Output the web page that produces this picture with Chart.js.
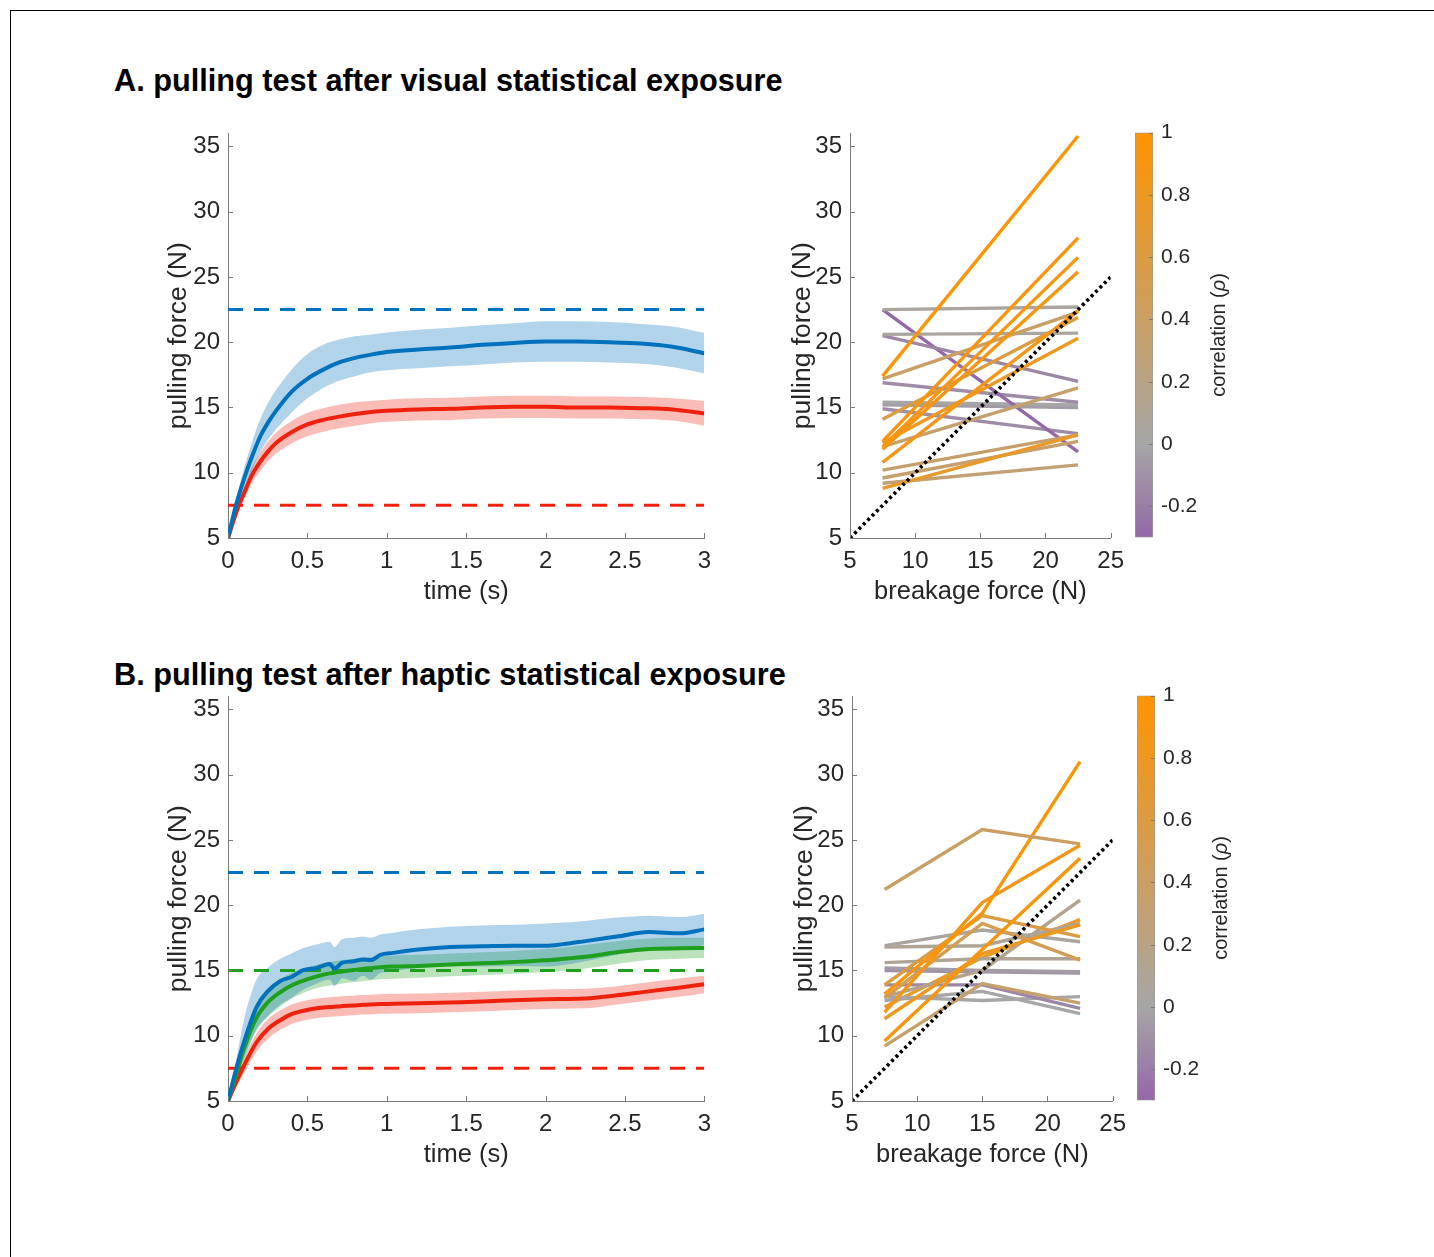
<!DOCTYPE html>
<html>
<head>
<meta charset="utf-8">
<script src="https://cdn.jsdelivr.net/npm/chart.js@4.4.1/dist/chart.umd.min.js"></script>
<style>
html, body { margin: 0; padding: 0; background: #fff; }
body { width: 1434px; height: 1257px; position: relative; overflow: hidden; font-family: 'Liberation Sans', Arial, sans-serif; }
#frame { position: absolute; left: 10px; top: 10px; width: 1430px; height: 1260px; border-top: 1.5px solid #000; border-left: 1.5px solid #000; }
.head { position: absolute; left: 114px; font-weight: bold; font-size: 30.7px; line-height: 30px; color: #000; white-space: nowrap; }
canvas { position: absolute; }
</style>
</head>
<body>
<div id="frame"></div>
<div class="head" style="top:66px">A. pulling test after visual statistical exposure</div>
<div class="head" style="top:660px">B. pulling test after haptic statistical exposure</div>
<canvas id="timeA" width="580" height="499" style="left:140px;top:111px"></canvas>
<canvas id="pairA" width="363" height="499" style="left:770px;top:111px"></canvas>
<canvas id="barA" width="130" height="446" style="left:1120px;top:112px"></canvas>
<canvas id="timeB" width="580" height="499" style="left:140px;top:674px"></canvas>
<canvas id="pairB" width="363" height="499" style="left:772px;top:674px"></canvas>
<canvas id="barB" width="130" height="446" style="left:1122px;top:675px"></canvas>
<script>
// ---- tick labels
var forceTicks = [5, 10, 15, 20, 25, 30, 35];
var timeTicks = [0, 0.5, 1, 1.5, 2, 2.5, 3];
var breakTicks = [5, 10, 15, 20, 25];
var rhoTicks = [-0.2, 0, 0.2, 0.4, 0.6, 0.8, 1];

// ---- A: pulling force over time (visual exposure)
var tA = [0, 0.05, 0.1, 0.15, 0.2, 0.25, 0.3, 0.4, 0.5, 0.6, 0.7, 0.8, 0.9, 1.0, 1.2, 1.4, 1.6, 1.8, 2.0, 2.2, 2.4, 2.6, 2.8, 3.0];
var blueA   = [5, 7.5, 9.5, 11.2, 12.7, 13.8, 14.7, 16.2, 17.2, 17.9, 18.45, 18.8, 19.05, 19.25, 19.45, 19.6, 19.8, 19.95, 20.05, 20.05, 20.0, 19.9, 19.65, 19.15];
var blueAhi = [5, 7.9, 10.3, 12.3, 14.0, 15.3, 16.3, 17.9, 19.1, 19.8, 20.2, 20.45, 20.6, 20.75, 20.95, 21.1, 21.3, 21.45, 21.6, 21.6, 21.55, 21.4, 21.2, 20.7];
var blueAlo = [5, 7.1, 8.8, 10.2, 11.5, 12.5, 13.3, 14.6, 15.7, 16.5, 17.05, 17.4, 17.7, 17.85, 18.0, 18.15, 18.3, 18.45, 18.5, 18.5, 18.45, 18.35, 18.1, 17.6];
var redA    = [5, 6.9, 8.4, 9.8, 10.8, 11.6, 12.25, 13.1, 13.7, 14.05, 14.3, 14.5, 14.65, 14.75, 14.85, 14.9, 15.0, 15.05, 15.05, 15.0, 15.0, 14.95, 14.85, 14.55];
var redAhi  = [5, 7.1, 8.8, 10.4, 11.5, 12.35, 13.05, 13.95, 14.6, 14.95, 15.2, 15.4, 15.5, 15.6, 15.7, 15.75, 15.85, 15.9, 15.9, 15.85, 15.85, 15.8, 15.7, 15.5];
var redAlo  = [5, 6.7, 8.0, 9.2, 10.1, 10.85, 11.45, 12.25, 12.8, 13.15, 13.4, 13.6, 13.8, 13.9, 14.0, 14.05, 14.15, 14.2, 14.2, 14.15, 14.15, 14.1, 14.0, 13.6];
var refA = [22.5, 7.5];   // blue, red breakage force

// ---- B: pulling force over time (haptic exposure)
var tB = [0, 0.05, 0.1, 0.18, 0.25, 0.33, 0.4, 0.47, 0.56, 0.64, 0.67, 0.72, 0.79, 0.85, 0.9, 0.96, 1.04, 1.2, 1.4, 1.6, 1.8, 2.0, 2.1, 2.25, 2.45, 2.65, 2.85, 3.0];
var blueB    = [5, 7.4, 9.5, 12.2, 13.4, 14.2, 14.5, 15.0, 15.2, 15.5, 15.15, 15.6, 15.7, 15.85, 15.8, 16.2, 16.35, 16.6, 16.8, 16.85, 16.9, 16.9, 17.0, 17.25, 17.6, 17.95, 17.85, 18.15];
var blueBhi  = [5, 8.0, 11.2, 14.3, 15.2, 15.9, 16.3, 16.7, 17.0, 17.2, 16.8, 17.4, 17.5, 17.6, 17.5, 17.75, 17.9, 18.15, 18.35, 18.45, 18.5, 18.6, 18.65, 18.8, 19.05, 19.2, 19.1, 19.35];
var blueBlo  = [5, 6.8, 8.3, 10.5, 11.5, 12.4, 12.9, 13.5, 14.0, 14.3, 13.8, 14.4, 14.2, 14.6, 14.3, 14.8, 14.95, 15.2, 15.35, 15.3, 15.35, 15.3, 15.4, 15.7, 16.2, 16.7, 16.65, 16.95];
var greenB   = [5, 7.0, 9.0, 11.4, 12.55, 13.35, 13.85, 14.2, 14.55, 14.78, 14.83, 14.93, 15.03, 15.12, 15.18, 15.25, 15.3, 15.35, 15.45, 15.55, 15.65, 15.78, 15.88, 16.05, 16.4, 16.65, 16.7, 16.73];
var greenBhi = [5, 7.5, 9.8, 12.5, 13.6, 14.35, 14.8, 15.1, 15.45, 15.65, 15.7, 15.8, 15.9, 15.97, 16.02, 16.1, 16.15, 16.2, 16.3, 16.4, 16.5, 16.65, 16.75, 16.95, 17.25, 17.45, 17.5, 17.5];
var greenBlo = [5, 6.5, 8.2, 10.4, 11.45, 12.25, 12.85, 13.25, 13.65, 13.85, 13.9, 14.0, 14.1, 14.18, 14.25, 14.32, 14.37, 14.45, 14.55, 14.65, 14.75, 14.88, 14.97, 15.15, 15.5, 15.8, 15.9, 15.95];
var redB     = [5, 6.4, 7.7, 9.5, 10.5, 11.2, 11.65, 11.9, 12.1, 12.2, 12.23, 12.27, 12.32, 12.37, 12.4, 12.43, 12.46, 12.48, 12.55, 12.62, 12.72, 12.8, 12.82, 12.85, 13.1, 13.4, 13.7, 13.95];
var redBhi   = [5, 6.8, 8.3, 10.2, 11.25, 11.95, 12.4, 12.65, 12.85, 12.95, 12.98, 13.02, 13.07, 13.12, 13.15, 13.18, 13.21, 13.23, 13.3, 13.37, 13.47, 13.55, 13.57, 13.6, 13.8, 14.1, 14.4, 14.6];
var redBlo   = [5, 6.0, 7.1, 8.8, 9.75, 10.45, 10.9, 11.15, 11.35, 11.45, 11.48, 11.52, 11.57, 11.62, 11.65, 11.68, 11.71, 11.73, 11.8, 11.87, 11.97, 12.05, 12.07, 12.1, 12.4, 12.7, 13.0, 13.25];
var refB = [22.5, 15, 7.5];   // blue, green, red breakage force

// ---- A right: per-subject pulling force at breakage 7.5 / 22.5 N, and correlation
var breakA = [7.5, 22.5];
var subjA_lo = [17.4, 12.4, 12.0, 11.8, 10.8, 12.3, 8.8, 17.2, 14.1, 12.0, 10.2, 9.6, 9.2, 22.5, 20.6, 20.5, 22.5, 16.9, 15.4, 15.2, 14.9];
var subjA_hi = [35.8, 28.0, 26.5, 25.4, 22.4, 20.3, 12.9, 22.3, 21.9, 16.5, 12.9, 12.4, 10.6, 22.7, 20.7, 17.0, 11.6, 15.4, 15.2, 15.0, 13.0];
var rhoA     = [0.97, 0.92, 0.9, 0.88, 0.85, 0.8, 0.75, 0.4, 0.6, 0.35, 0.35, 0.35, 0.3, 0.05, 0.05, -0.15, -0.3, -0.12, 0.0, -0.05, -0.12];

// ---- B right: per-subject pulling force at breakage 7.5 / 15 / 22.5 N, and correlation
var breakB = [7.5, 15, 22.5];
var subjB_lo  = [21.2, 13.2, 11.8, 9.6, 11.3, 13.9, 12.9, 9.2, 13.0, 16.9, 16.8, 15.6, 15.2, 15.0, 13.9, 13.0, 12.7, 12.2];
var subjB_mid = [25.8, 19.4, 20.2, 16.6, 16.3, 19.2, 18.6, 14.0, 15.0, 18.1, 16.9, 15.9, 15.0, 14.9, 13.9, 12.7, 13.4, 16.0];
var subjB_hi  = [24.7, 31.0, 24.6, 23.6, 18.5, 17.6, 15.8, 12.5, 20.4, 17.2, 18.6, 15.9, 14.9, 14.8, 12.1, 13.0, 11.7, 18.9];
var rhoB      = [0.4, 0.95, 0.85, 0.92, 0.8, 0.6, 0.5, 0.35, 0.15, 0.05, 0.1, 0.1, -0.05, -0.1, -0.15, 0.0, 0.0, 0.75];

var rhoMin = -0.3, rhoMax = 1;

// ---- styles
var BLUE = '0,114,189', RED = '238,34,12', GREEN = '30,160,30';
var axisGray = '#7a7a7a';
var textCol = '#262626';
var FONT = "'Liberation Sans', Arial, sans-serif";
var cmPurple = [148, 104, 168], cmGray = [166, 166, 166], cmOrange = [255, 148, 0];

Chart.defaults.font.family = FONT;
Chart.defaults.color = textCol;
Chart.defaults.animation = false;
Chart.defaults.plugins.legend.display = false;
Chart.defaults.plugins.tooltip.enabled = false;

function pts(xs, ys) {
  return xs.map(function (x, i) { return {x: x, y: ys[i]}; });
}

function rhoColor(r) {
  var a, b, f;
  if (r <= 0) { a = cmPurple; b = cmGray; f = (r - rhoMin) / (0 - rhoMin); }
  else { a = cmGray; b = cmOrange; f = r / rhoMax; }
  f = Math.max(0, Math.min(1, f));
  var c = a.map(function (v, i) { return Math.round(v + (b[i] - v) * f); });
  return 'rgb(' + c.join(',') + ')';
}

// MATLAB style ticks pointing into the axes
var innerTicks = {
  id: 'innerTicks',
  afterDraw: function (chart, args, opts) {
    var ctx = chart.ctx, a = chart.chartArea, len = opts.len || 5;
    ctx.save();
    ctx.strokeStyle = axisGray;
    ctx.lineWidth = 1;
    ctx.beginPath();
    if (opts.x) {
      chart.scales.x.ticks.forEach(function (t) {
        var px = Math.round(chart.scales.x.getPixelForValue(t.value)) + 0.5;
        ctx.moveTo(px, a.bottom); ctx.lineTo(px, a.bottom - len);
      });
    }
    if (opts.y) {
      var ys = chart.scales.y;
      ys.ticks.forEach(function (t) {
        var py = Math.round(ys.getPixelForValue(t.value)) + 0.5;
        if (opts.right) { ctx.moveTo(a.right, py); ctx.lineTo(a.right - len, py); }
        else { ctx.moveTo(a.left, py); ctx.lineTo(a.left + len, py); }
      });
    }
    ctx.stroke();
    ctx.restore();
  }
};

// colorbar label, reading bottom to top, with italic rho
var cbTitle = {
  id: 'cbTitle',
  afterDraw: function (chart) {
    var ctx = chart.ctx, a = chart.chartArea;
    var parts = [['correlation (', 'normal'], ['\u03C1', 'italic'], [')', 'normal']];
    ctx.save();
    ctx.translate(a.right + 66, (a.top + a.bottom) / 2);
    ctx.rotate(-Math.PI / 2);
    ctx.fillStyle = textCol;
    ctx.textAlign = 'left';
    ctx.textBaseline = 'middle';
    var widths = parts.map(function (p) { ctx.font = p[1] + ' 20px ' + FONT; return ctx.measureText(p[0]).width; });
    var x = -widths.reduce(function (s, w) { return s + w; }, 0) / 2;
    parts.forEach(function (p, i) {
      ctx.font = p[1] + ' 20px ' + FONT;
      ctx.fillText(p[0], x, 0);
      x += widths[i];
    });
    ctx.restore();
  }
};

function axes(xMin, xMax, xTicks, xTitle, yWidth, yTitlePad) {
  return {
    x: {
      type: 'linear', min: xMin, max: xMax,
      afterBuildTicks: function (s) { s.ticks = xTicks.map(function (v) { return {value: v}; }); },
      afterFit: function (s) { s.height = 72; },
      grid: {display: false, drawTicks: false},
      border: {display: true, color: axisGray, width: 1},
      ticks: {padding: 9, font: {size: 24}, color: textCol, maxRotation: 0, autoSkip: false,
              callback: function (v) { return String(v); }},
      title: {display: true, text: xTitle, font: {size: 25.5}, color: textCol, padding: {top: 0, bottom: 3}}
    },
    y: {
      min: 5, max: 36,
      afterBuildTicks: function (s) { s.ticks = forceTicks.map(function (v) { return {value: v}; }); },
      afterFit: function (s) { s.width = yWidth; },
      grid: {display: false, drawTicks: false},
      border: {display: true, color: axisGray, width: 1},
      ticks: {padding: 8, font: {size: 24}, color: textCol, callback: function (v) { return String(v); }},
      title: {display: true, text: 'pulling force (N)', font: {size: 26.5}, color: textCol, padding: {top: yTitlePad, bottom: 0}}
    }
  };
}

function bandSets(xs, hi, lo, rgb) {
  return [
    {data: pts(xs, hi), fill: '+1', backgroundColor: 'rgba(' + rgb + ',0.3)', borderColor: 'rgba(0,0,0,0)', borderWidth: 0,
     pointRadius: 0, order: 3, cubicInterpolationMode: 'monotone'},
    {data: pts(xs, lo), fill: false, borderColor: 'rgba(0,0,0,0)', borderWidth: 0, pointRadius: 0, order: 3,
     cubicInterpolationMode: 'monotone'}
  ];
}
function meanSet(xs, ys, rgb) {
  return {data: pts(xs, ys), borderColor: 'rgb(' + rgb + ')', borderWidth: 4, pointRadius: 0, fill: false, order: 0,
          cubicInterpolationMode: 'monotone'};
}
function dashSet(level, rgb) {
  return {data: [{x: 0, y: level}, {x: 3, y: level}], borderColor: 'rgb(' + rgb + ')', borderWidth: 3,
          borderDash: [15, 11], pointRadius: 0, fill: false, order: 1};
}

function timeChart(id, sets) {
  return new Chart(document.getElementById(id), {
    type: 'line',
    data: {datasets: sets},
    options: {
      responsive: false, devicePixelRatio: 1,
      layout: {padding: {top: 0, right: 15, left: 0, bottom: 0}},
      scales: axes(0, 3, timeTicks, 'time (s)', 88, 23),
      plugins: {innerTicks: {x: true, y: true}}
    },
    plugins: [innerTicks]
  });
}

function pairChart(id, xs, cols, rho) {
  var sets = rho.map(function (r, i) {
    return {data: pts(xs, cols.map(function (c) { return c[i]; })), borderColor: rhoColor(r), borderWidth: 3.4,
            pointRadius: 0, fill: false, order: 1, tension: 0};
  });
  sets.push({data: [{x: 5, y: 5}, {x: 25, y: 25}], borderColor: '#000', borderWidth: 3.6, borderDash: [3, 3.2],
             pointRadius: 0, fill: false, order: 0, tension: 0});
  return new Chart(document.getElementById(id), {
    type: 'line',
    data: {datasets: sets},
    options: {
      responsive: false, devicePixelRatio: 1,
      layout: {padding: {top: 0, right: 0, left: 0, bottom: 0}},
      scales: axes(5, 25, breakTicks, 'breakage force (N)', 80, 17),
      plugins: {innerTicks: {x: true, y: true}}
    },
    plugins: [innerTicks]
  });
}

function colorBar(id) {
  return new Chart(document.getElementById(id), {
    type: 'bar',
    data: {
      labels: [''],
      datasets: [{
        data: [[rhoMin, rhoMax]],
        backgroundColor: function (c) {
          var a = c.chart.chartArea;
          if (!a) return 'rgba(0,0,0,0)';
          var g = c.chart.ctx.createLinearGradient(0, a.bottom, 0, a.top);
          g.addColorStop(0, 'rgb(' + cmPurple.join(',') + ')');
          g.addColorStop((0 - rhoMin) / (rhoMax - rhoMin), 'rgb(' + cmGray.join(',') + ')');
          g.addColorStop(1, 'rgb(' + cmOrange.join(',') + ')');
          return g;
        },
        borderColor: '#9a9a9a', borderWidth: 1, borderSkipped: false,
        barPercentage: 1, categoryPercentage: 1
      }]
    },
    options: {
      responsive: false, devicePixelRatio: 1,
      layout: {padding: {top: 0, right: 0, left: 15, bottom: 0}},
      scales: {
        x: {display: false},
        y: {
          position: 'right', min: rhoMin, max: rhoMax,
          afterBuildTicks: function (s) { s.ticks = rhoTicks.map(function (v) { return {value: v}; }); },
          afterFit: function (s) { s.width = 97; },
          grid: {display: false, drawTicks: false},
          border: {display: false},
          ticks: {padding: 8, font: {size: 21}, color: textCol, callback: function (v) { return String(v); }}
        }
      },
      plugins: {innerTicks: {x: false, y: true, right: true, len: 4}}
    },
    plugins: [innerTicks, cbTitle]
  });
}

timeChart('timeA', [].concat(
  bandSets(tA, blueAhi, blueAlo, BLUE),
  bandSets(tA, redAhi, redAlo, RED),
  [dashSet(refA[0], BLUE), dashSet(refA[1], RED), meanSet(tA, blueA, BLUE), meanSet(tA, redA, RED)]
));

timeChart('timeB', [].concat(
  bandSets(tB, blueBhi, blueBlo, BLUE),
  bandSets(tB, greenBhi, greenBlo, GREEN),
  bandSets(tB, redBhi, redBlo, RED),
  [dashSet(refB[0], BLUE), dashSet(refB[1], GREEN), dashSet(refB[2], RED),
   meanSet(tB, blueB, BLUE), meanSet(tB, greenB, GREEN), meanSet(tB, redB, RED)]
));

pairChart('pairA', breakA, [subjA_lo, subjA_hi], rhoA);
pairChart('pairB', breakB, [subjB_lo, subjB_mid, subjB_hi], rhoB);
colorBar('barA');
colorBar('barB');
</script>
</body>
</html>
